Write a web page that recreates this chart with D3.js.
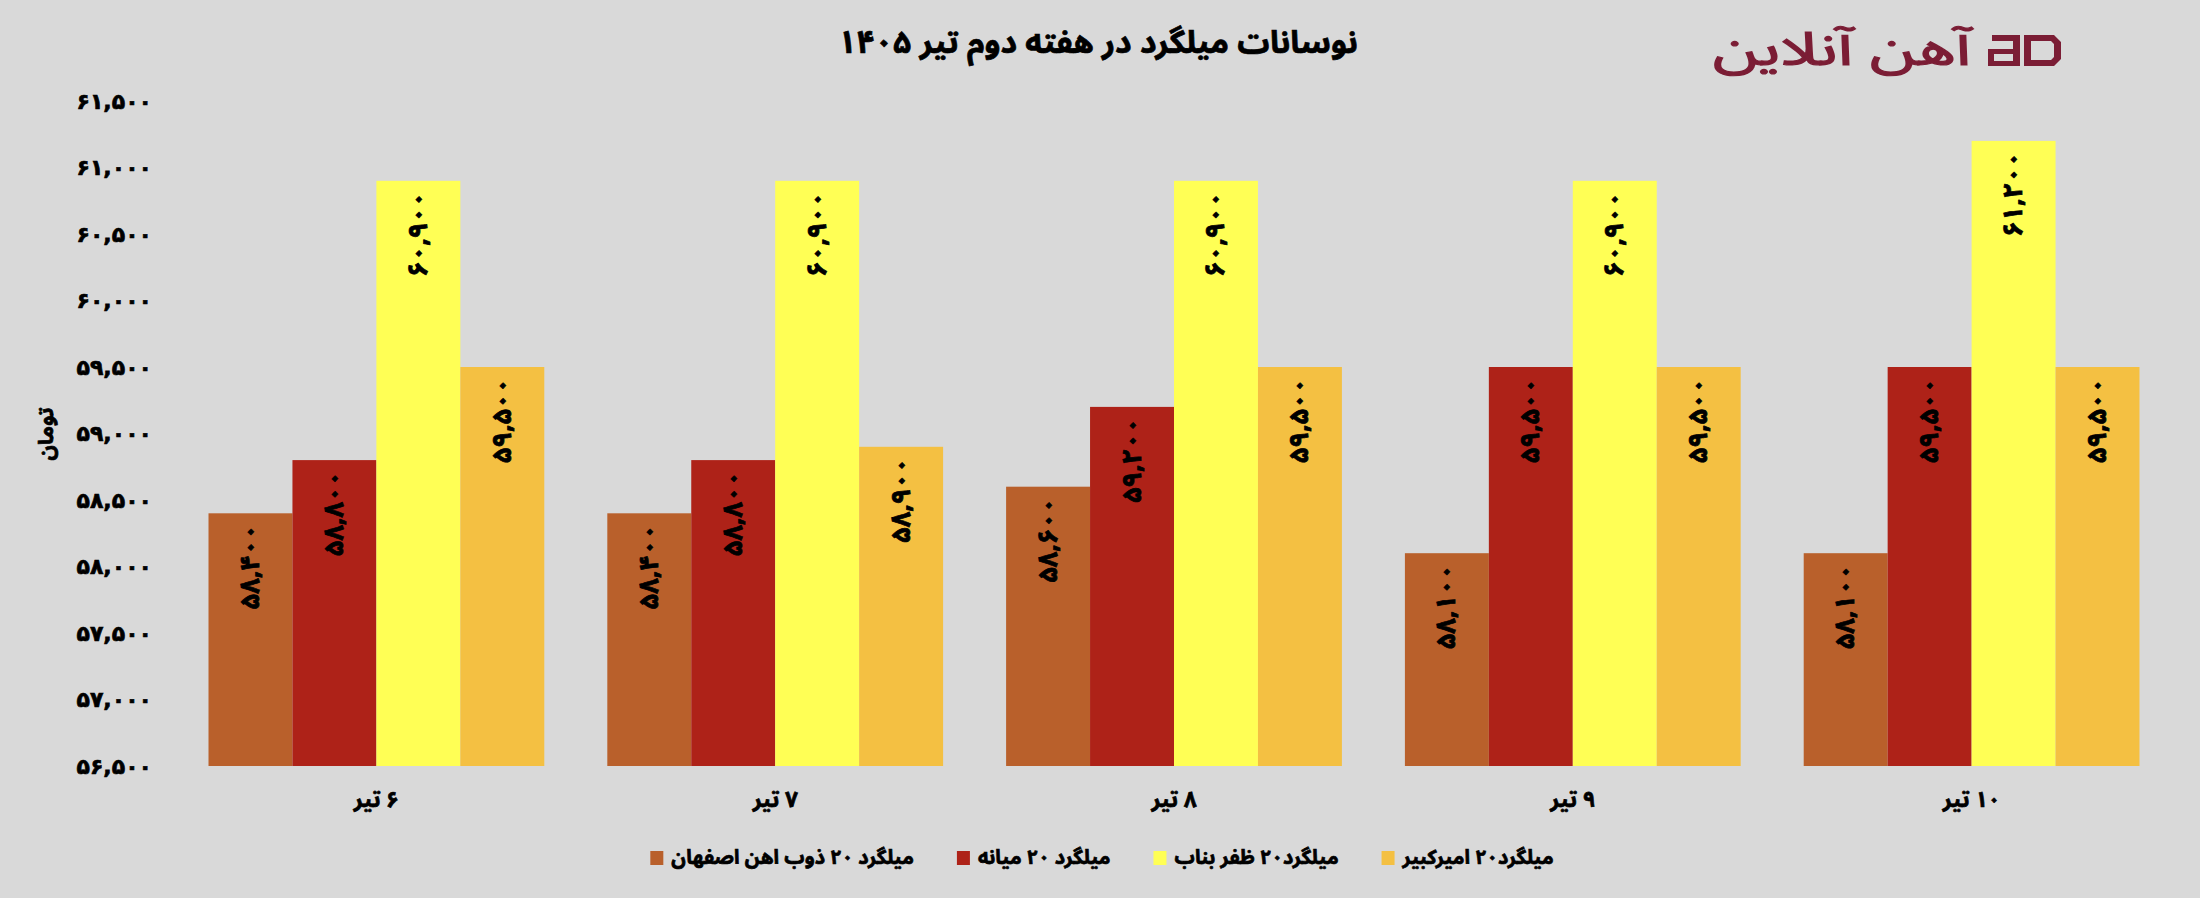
<!DOCTYPE html>
<html>
<head>
<meta charset="utf-8">
<script src="https://cdnjs.cloudflare.com/ajax/libs/d3/7.8.5/d3.min.js"></script>
<style>
  body { margin: 0; background: #d9d9d9; }
  svg text { font-family: "Noto Sans Arabic", "DejaVu Sans", sans-serif; font-weight: bold; fill: #000; stroke: #000; stroke-width: 0.7px; }
</style>
</head>
<body>
<div class="chart-container"></div>
<script>
const svgWidth = 2200;
const svgHeight = 898;

const titleText = "نوسانات میلگرد در هفته دوم تیر ۱۴۰۵";
const yAxisLabel = "تومان";
const categories = ["۶ تیر", "۷ تیر", "۸ تیر", "۹ تیر", "۱۰ تیر"];
const seriesNames = ["میلگرد ۲۰ ذوب اهن اصفهان", "میلگرد ۲۰ میانه", "میلگرد۲۰  ظفر بناب", "میلگرد۲۰  امیرکبیر"];
const seriesColors = ["#b9602b", "#ae2218", "#ffff55", "#f4c042"];
const esfahanValues = [58400, 58400, 58600, 58100, 58100];
const mianehValues = [58800, 58800, 59200, 59500, 59500];
const bonabValues = [60900, 60900, 60900, 60900, 61200];
const amirkabirValues = [59500, 58900, 59500, 59500, 59500];
const yTicks = [56500, 57000, 57500, 58000, 58500, 59000, 59500, 60000, 60500, 61000, 61500];

const allSeries = [esfahanValues, mianehValues, bonabValues, amirkabirValues];

// western digits -> persian digits
function toFa(s) {
    return String(s).replace(/[0-9]/g, function(c) { return "۰۱۲۳۴۵۶۷۸۹"[+c]; });
}
const fmt = d3.format(",");

const svg = d3.select(".chart-container")
              .append("svg")
              .attr("width", svgWidth)
              .attr("height", svgHeight);

svg.append("rect")
   .attr("width", svgWidth)
   .attr("height", svgHeight)
   .attr("fill", "#d9d9d9");

const xScale = d3.scaleBand()
                 .domain(categories)
                 .range([177, 2171])
                 .paddingInner(0.158)
                 .paddingOuter(0.079);

const xSub = d3.scaleBand()
               .domain(d3.range(seriesNames.length))
               .range([0, xScale.bandwidth()]);

const yScale = d3.scaleLinear()
                 .domain([56500, 61500])
                 .range([766, 101]);

// title
svg.append("text")
   .attr("x", 1098)
   .attr("y", 43)
   .attr("text-anchor", "middle")
   .attr("dominant-baseline", "central")
   .attr("direction", "rtl")
   .style("font-size", "32px")
   .text(titleText);

// logo
const logo = svg.append("g").attr("fill", "#7b1d35");
logo.append("text")
    .attr("x", 1713)
    .attr("y", 50)
    .attr("dominant-baseline", "central")
    .attr("textLength", 258)
    .attr("lengthAdjust", "spacingAndGlyphs")
    .style("font-size", "46px")
    .style("font-weight", "normal")
    .style("fill", "#7b1d35")
    .style("stroke", "#7b1d35")
    .style("stroke-width", "1.2px")
    .text("آهن آنلاین");
logo.append("path")
    .attr("fill-rule", "evenodd")
    .attr("d", "M1992,35 L2020,35 L2020,66 L1988,66 L1988,49 L2013,49 L2013,41 L1992,41 Z M1994,54 L1994,61 L2013,61 L2013,54 Z");
logo.append("path")
    .attr("fill-rule", "evenodd")
    .attr("d", "M2024,35 L2054,35 L2061,42 L2061,59 L2054,66 L2024,66 Z M2031,41 L2031,60 L2051,60 L2054,57 L2054,44 L2051,41 Z");

// y axis
const yAxis = d3.axisLeft(yScale)
                .tickValues(yTicks)
                .tickSize(0)
                .tickPadding(6)
                .tickFormat(function(d) { return toFa(fmt(d)); });

const yG = svg.append("g")
              .attr("transform", "translate(158,0)")
              .call(yAxis);
yG.select(".domain").remove();
yG.selectAll("text")
  .style("font-size", "22px")
  .style("font-family", "\"DejaVu Sans\", sans-serif");

svg.append("text")
   .attr("transform", "translate(46,434) rotate(-90)")
   .attr("text-anchor", "middle")
   .attr("dominant-baseline", "central")
   .attr("direction", "rtl")
   .style("font-size", "21px")
   .text(yAxisLabel);

// x axis
const xAxis = d3.axisBottom(xScale)
                .tickSize(0)
                .tickPadding(25);

const xG = svg.append("g")
              .attr("transform", "translate(0,766)")
              .call(xAxis);
xG.select(".domain").remove();
xG.selectAll("text")
  .attr("direction", "rtl")
  .style("font-size", "22px");

// bars
const groups = svg.selectAll(".grp")
                  .data(categories)
                  .enter()
                  .append("g")
                  .attr("class", "grp")
                  .attr("transform", function(d) { return "translate(" + xScale(d) + ",0)"; });

groups.selectAll("rect")
      .data(function(d, i) {
          return allSeries.map(function(vals, s) { return {s: s, v: vals[i]}; });
      })
      .enter()
      .append("rect")
      .attr("x", function(d) { return xSub(d.s); })
      .attr("y", function(d) { return yScale(d.v); })
      .attr("width", xSub.bandwidth())
      .attr("height", function(d) { return yScale.range()[0] - yScale(d.v); })
      .attr("fill", function(d) { return seriesColors[d.s]; });

groups.selectAll(".barText")
      .data(function(d, i) {
          return allSeries.map(function(vals, s) { return {s: s, v: vals[i]}; });
      })
      .enter()
      .append("text")
      .attr("class", "barText")
      .attr("transform", function(d) {
          return "translate(" + (xSub(d.s) + xSub.bandwidth() / 2) + "," + (yScale(d.v) + 11) + ") rotate(-90)";
      })
      .attr("text-anchor", "end")
      .attr("dominant-baseline", "central")
      .style("font-size", "27px")
      .text(function(d) { return toFa(fmt(d.v)); });

// legend, laid out left to right then centred
const legend = svg.append("g").attr("transform", "translate(0,858)");
const items = legend.selectAll(".leg")
                    .data(seriesNames)
                    .enter()
                    .append("g")
                    .attr("class", "leg");
items.append("rect")
     .attr("y", -7)
     .attr("width", 13)
     .attr("height", 14)
     .attr("fill", function(d, i) { return seriesColors[i]; });
items.append("text")
     .attr("x", 21)
     .attr("dominant-baseline", "central")
     .attr("direction", "rtl")
     .attr("text-anchor", "end")
     .style("font-size", "20px")
     .text(function(d) { return d; });

let cursor = 0;
items.each(function() {
    const g = d3.select(this);
    const w = g.select("text").node().getComputedTextLength();
    g.attr("transform", "translate(" + cursor + ",0)");
    cursor += 21 + w + 43;
});
const legendWidth = cursor - 43;
legend.attr("transform", "translate(" + (1102 - legendWidth / 2) + ",858)");
</script>
</body>
</html>
